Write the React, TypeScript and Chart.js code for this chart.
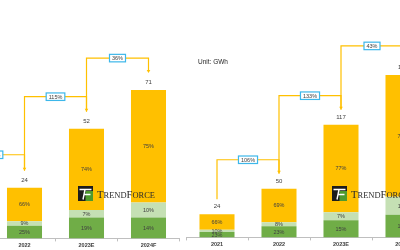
import React, { useEffect, useRef } from "react";
import { Chart, registerables } from "chart.js";
Chart.register(...registerables);

// ---------- data ----------
const leftYears = ["2022", "2023E", "2024F"];
const leftTotals = [24, 52, 71];
const leftLowPct = [25, 19, 14];
const leftMidPct = [9, 7, 10];
const leftHighPct = [66, 74, 75];
const leftGrowth = ["115%", "36%"];
const leftPriorGrowth = "118%"; // box cropped at the left edge

const rightYears = ["2021", "2022", "2023E", "2024F"];
const rightTotals = [24, 50, 117, 167];
const rightLowPct = [23, 23, 15, 14];
const rightMidPct = [10, 8, 7, 11];
const rightHighPct = [66, 69, 77, 75];
const rightGrowth = ["106%", "133%", "43%"];

const unitLabel = "Unit: GWh";
const seriesNames = ["Low", "Mid", "High"];
const brandText = "TRENDFORCE";

// ---------- styles ----------
const COLORS = ["#70AD47", "#C5E0B4", "#FFC000"];
const FONT = "'Liberation Sans', Arial, sans-serif";
const TEXT = "#404040";
const LINE = "#FFC000";
const BOX = "#3DB7EA";

type Panel = {
  years: string[];
  totals: number[];
  low: number[];
  mid: number[];
  high: number[];
  growth: string[];
  prior?: string;
  unit?: string;
  yMax: number;
  pad: { left: number; right: number; bottom: number };
  lift: number;
  tipGap: number;
  brandDx: number;
  brandY: number;
  unitDx?: number;
  unitY?: number;
};

function drawBox(ctx: CanvasRenderingContext2D, cx: number, cy: number, text: string) {
  ctx.font = `5.5px ${FONT}`;
  const w = ctx.measureText(text).width + 5;
  const h = 7.5;
  ctx.fillStyle = "#ffffff";
  ctx.fillRect(cx - w / 2, cy - h / 2, w, h);
  ctx.strokeStyle = BOX;
  ctx.lineWidth = 1.2;
  ctx.strokeRect(cx - w / 2, cy - h / 2, w, h);
  ctx.fillStyle = TEXT;
  ctx.textAlign = "center";
  ctx.textBaseline = "middle";
  ctx.fillText(text, cx, cy + 0.3);
}

function drawArrow(
  ctx: CanvasRenderingContext2D,
  xa: number, topA: number, xb: number, topB: number,
  lift: number, tipGap: number, label: string
) {
  const yH = Math.min(topA, topB) - lift;
  const tipY = topB - tipGap;
  ctx.strokeStyle = LINE;
  ctx.lineWidth = 1.2;
  ctx.beginPath();
  ctx.moveTo(xa, topA - tipGap);
  ctx.lineTo(xa, yH);
  ctx.lineTo(xb, yH);
  ctx.lineTo(xb, tipY - 2.5);
  ctx.stroke();
  ctx.fillStyle = LINE;
  ctx.beginPath();
  ctx.moveTo(xb - 1.8, tipY - 3);
  ctx.lineTo(xb + 1.8, tipY - 3);
  ctx.lineTo(xb, tipY);
  ctx.closePath();
  ctx.fill();
  drawBox(ctx, (xa + xb) / 2, yH, label);
}

function drawBrand(ctx: CanvasRenderingContext2D, x: number, y: number) {
  // logo
  ctx.fillStyle = "#1c1c1c";
  ctx.fillRect(x, y, 15, 15);
  ctx.fillStyle = "#4E9A2E";
  ctx.fillRect(x + 7.5, y + 5, 7.5, 10);
  ctx.strokeStyle = "#ffffff";
  ctx.lineWidth = 1.4;
  ctx.beginPath();
  ctx.moveTo(x + 1.5, y + 3.5);
  ctx.lineTo(x + 13.5, y + 3.5);
  ctx.moveTo(x + 7, y + 3.5);
  ctx.lineTo(x + 5, y + 13.5);
  ctx.moveTo(x + 6.3, y + 8.5);
  ctx.lineTo(x + 12.5, y + 8.5);
  ctx.stroke();
  // text in small caps
  const big = 9.8, small = 7.8;
  const parts: { t: string; s: number }[] = [];
  brandText.split("").forEach((ch, i) => {
    const isBig = i === 0 || i === 5;
    parts.push({ t: ch, s: isBig ? big : small });
  });
  let widthSum = 0;
  parts.forEach((p) => {
    ctx.font = `${p.s}px 'Liberation Serif', 'DejaVu Serif', serif`;
    widthSum += ctx.measureText(p.t).width;
  });
  const target = 58;
  const k = target / widthSum;
  let cx = x + 19;
  ctx.fillStyle = "#2a2a2a";
  ctx.textAlign = "left";
  ctx.textBaseline = "alphabetic";
  parts.forEach((p) => {
    ctx.font = `${p.s}px 'Liberation Serif', 'DejaVu Serif', serif`;
    const w = ctx.measureText(p.t).width;
    ctx.save();
    ctx.translate(cx, y + 12);
    ctx.scale(k, 1);
    ctx.fillText(p.t, 0, 0);
    ctx.restore();
    cx += w * k;
  });
}

function makePlugin(p: Panel) {
  return {
    id: "panelDecor",
    afterDatasetsDraw(chart: any) {
      const ctx: CanvasRenderingContext2D = chart.ctx;
      const area = chart.chartArea;
      ctx.save();
      // watermark
      drawBrand(ctx, area.left + p.brandDx, p.brandY);

      const metas = [0, 1, 2].map((d) => chart.getDatasetMeta(d));
      // percent labels
      ctx.font = `5.5px ${FONT}`;
      ctx.fillStyle = TEXT;
      ctx.textAlign = "center";
      ctx.textBaseline = "middle";
      const pcts = [p.low, p.mid, p.high];
      metas.forEach((m: any, d: number) => {
        m.data.forEach((el: any, i: number) => {
          const yc = (el.y + el.base) / 2;
          ctx.fillText(`${pcts[d][i]}%`, el.x, yc + 0.3);
        });
      });
      // totals
      ctx.font = `6px ${FONT}`;
      const topMeta: any = metas[2];
      topMeta.data.forEach((el: any, i: number) => {
        ctx.fillText(String(p.totals[i]), el.x, el.y - 7.5);
      });
      // growth arrows
      const xs = topMeta.data.map((el: any) => el.x);
      const tops = topMeta.data.map((el: any) => el.y);
      if (p.prior) {
        const step = xs[1] - xs[0];
        drawArrow(ctx, xs[0] - step, tops[0], xs[0], tops[0], p.lift + 1, p.tipGap, p.prior);
      }
      p.growth.forEach((g, i) => {
        drawArrow(ctx, xs[i], tops[i], xs[i + 1], tops[i + 1], p.lift, p.tipGap, g);
      });
      // unit
      if (p.unit) {
        ctx.font = `6.5px ${FONT}`;
        ctx.fillStyle = "#262626";
        ctx.textAlign = "left";
        ctx.textBaseline = "middle";
        ctx.fillText(p.unit, area.left + (p.unitDx || 0), p.unitY || 0);
      }
      ctx.restore();
    },
  };
}

function makeConfig(p: Panel): any {
  const parts = [p.low, p.mid, p.high];
  return {
    type: "bar",
    data: {
      labels: p.years,
      datasets: parts.map((pct, k) => ({
        label: seriesNames[k],
        data: p.totals.map((t, i) => (t * pct[i]) / 100),
        backgroundColor: COLORS[k],
        borderWidth: 0,
        barPercentage: 0.565,
        categoryPercentage: 1,
        stack: "s",
      })),
    },
    options: {
      animation: false,
      responsive: false,
      maintainAspectRatio: false,
      devicePixelRatio: 1,
      layout: { padding: { left: p.pad.left, right: p.pad.right, top: 0, bottom: p.pad.bottom } },
      plugins: { legend: { display: false }, tooltip: { enabled: false }, title: { display: false } },
      scales: {
        x: {
          stacked: true,
          grid: { offset: true, drawOnChartArea: false, tickLength: 3, color: "#BFBFBF" },
          border: { display: true, color: "#BFBFBF", width: 1 },
          ticks: {
            font: { family: FONT, size: 5.5, weight: "bold" },
            color: TEXT,
            padding: 1,
            maxRotation: 0,
            autoSkip: false,
          },
        },
        y: { stacked: true, display: false, min: 0, max: p.yMax },
      },
    },
    plugins: [makePlugin(p)],
  };
}

const leftPanel: Panel = {
  years: leftYears,
  totals: leftTotals,
  low: leftLowPct,
  mid: leftMidPct,
  high: leftHighPct,
  growth: leftGrowth,
  prior: leftPriorGrowth,
  yMax: 113,
  pad: { left: 53.5, right: 10.5, bottom: 0 },
  lift: 32,
  tipGap: 17,
  brandDx: 84.5,
  brandY: 186,
};

const rightPanel: Panel = {
  years: rightYears,
  totals: rightTotals,
  low: rightLowPct,
  mid: rightMidPct,
  high: rightHighPct,
  growth: rightGrowth,
  unit: unitLabel,
  yMax: 244,
  pad: { left: 6, right: 16, bottom: 1 },
  lift: 29,
  tipGap: 15,
  brandDx: 146,
  brandY: 186,
  unitDx: 12,
  unitY: 62,
};

function PanelChart({ panel, left, width }: { panel: Panel; left: number; width: number }) {
  const ref = useRef<HTMLCanvasElement | null>(null);
  useEffect(() => {
    if (!ref.current) return;
    const chart = new Chart(ref.current, makeConfig(panel));
    return () => chart.destroy();
  }, [panel]);
  return (
    <canvas
      ref={ref}
      width={width}
      height={250}
      style={{ position: "absolute", left, top: 0, width, height: 250 }}
    />
  );
}

export default function App() {
  return (
    <div
      style={{
        position: "fixed",
        left: 0,
        top: 0,
        width: 400,
        height: 250,
        overflow: "hidden",
        background: "#ffffff",
      }}
    >
      <PanelChart panel={leftPanel} left={-60} width={250} />
      <PanelChart panel={rightPanel} left={180} width={270} />
    </div>
  );
}
